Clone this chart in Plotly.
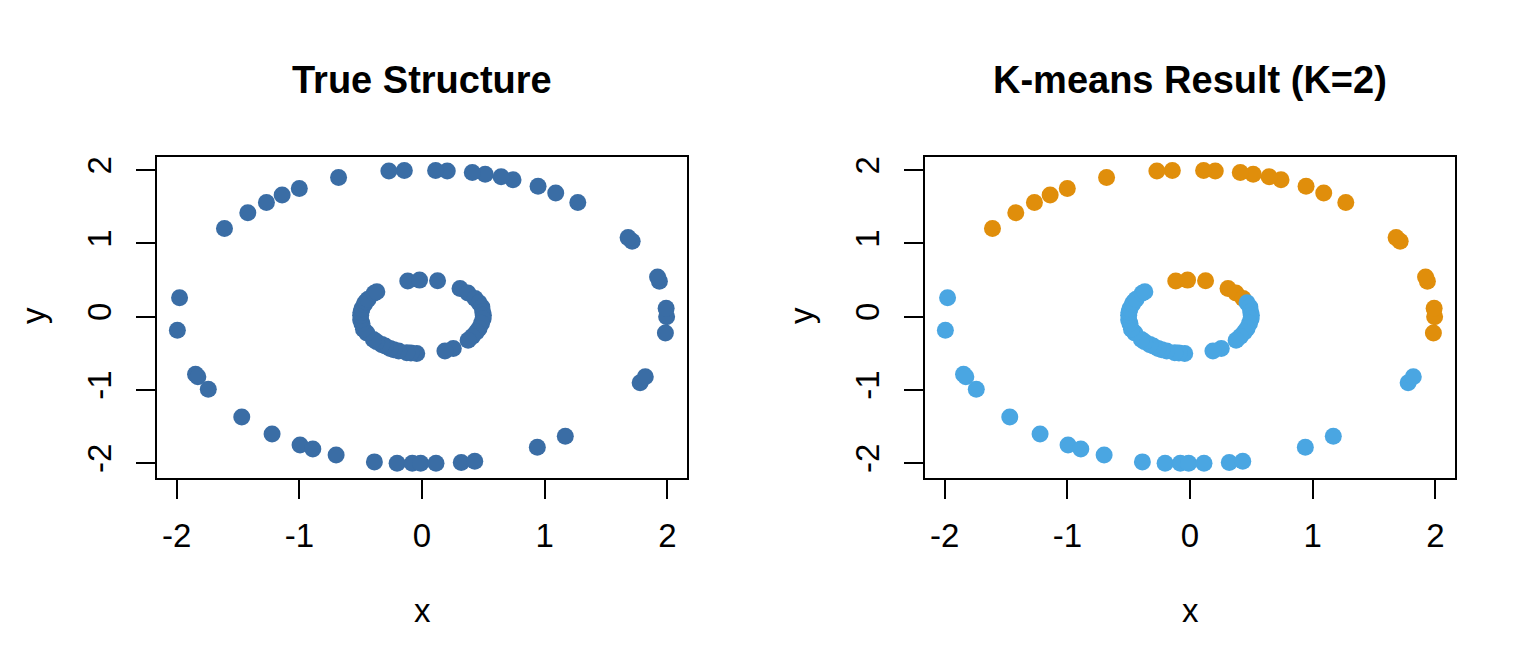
import plotly.graph_objects as go
from plotly.subplots import make_subplots

# outer ring (radius ~2)
outer_x = [-1.976, -1.994, -1.846, -1.827, -1.742, -1.469, -1.222, -0.994, -0.89, -0.70,
           -0.388, -0.203, -0.079, -0.011, 0.114, 0.32, 0.43, 0.94, 1.168, 1.778,
           1.82, 1.984, 1.994, 1.99, 1.935, 1.92, 1.713, 1.68, 1.27, 1.09,
           0.946, 0.742, 0.645, 0.515, 0.41, 0.206, 0.111, -0.144, -0.27, -0.68,
           -1.0, -1.14, -1.268, -1.42, -1.61]
outer_y = [0.26, -0.184, -0.785, -0.82, -0.99, -1.368, -1.60, -1.75, -1.805, -1.887,
           -1.98, -2.0, -2.0, -2.0, -2.0, -1.99, -1.97, -1.78, -1.63, -0.90,
           -0.82, -0.22, 0.0, 0.116, 0.485, 0.543, 1.03, 1.08, 1.56, 1.69,
           1.78, 1.87, 1.91, 1.945, 1.97, 1.99, 1.995, 1.995, 1.99, 1.90,
           1.75, 1.66, 1.559, 1.42, 1.204]
outer_cluster = [2] * 21 + [1] * 24

# inner ring (radius ~0.5)
inner_x = [-0.116, -0.02, 0.127, 0.31, 0.374, 0.433, 0.465, 0.488, 0.495, 0.5,
           0.498, 0.485, 0.465, 0.444, 0.41, 0.376, 0.255, 0.187, -0.043, -0.09,
           -0.124, -0.19, -0.23, -0.26, -0.30, -0.327, -0.37, -0.396, -0.45, -0.477,
           -0.49, -0.50, -0.50, -0.497, -0.49, -0.47, -0.46, -0.44, -0.39, -0.368]
inner_y = [0.489, 0.50, 0.49, 0.385, 0.325, 0.248, 0.19, 0.134, 0.07, 0.02,
           -0.03, -0.09, -0.16, -0.207, -0.27, -0.32, -0.434, -0.467, -0.5, -0.495,
           -0.49, -0.467, -0.45, -0.434, -0.40, -0.38, -0.34, -0.31, -0.22, -0.17,
           -0.09, -0.04, 0.02, 0.06, 0.11, 0.17, 0.20, 0.24, 0.32, 0.34]
inner_cluster = [1] * 6 + [2] * 34

xs = outer_x + inner_x
ys = outer_y + inner_y
clusters = outer_cluster + inner_cluster

tick_vals = [-2, -1, 0, 1, 2]
tick_text = ["-2", "-1", "0", "1", "2"]

true_col = "#3a6da5"
cluster_cols = {1: "#e08e0b", 2: "#4aa6e2"}
FONT = "Liberation Sans, Arial, Helvetica, sans-serif"

fig = make_subplots(rows=1, cols=2)
fig.add_trace(go.Scatter(x=xs, y=ys, mode="markers",
                         marker=dict(color=true_col, size=17, line=dict(width=0))),
              row=1, col=1)
fig.add_trace(go.Scatter(x=xs, y=ys, mode="markers",
                         marker=dict(color=[cluster_cols[c] for c in clusters], size=17,
                                     line=dict(width=0))),
              row=1, col=2)

W, H = 1536, 672
dom_y = [1 - 478 / H, 1 - 157 / H]
fig.update_layout(
    width=W, height=H, showlegend=False,
    margin=dict(l=0, r=0, t=0, b=0),
    paper_bgcolor="white", plot_bgcolor="white",
    font=dict(family=FONT, size=33, color="black"),
    xaxis=dict(domain=[157 / W, 687 / W]),
    xaxis2=dict(domain=[925 / W, 1455 / W]),
    yaxis=dict(domain=dom_y),
    yaxis2=dict(domain=dom_y),
)
fig.update_xaxes(range=[-2.16, 2.16], tickvals=tick_vals, ticktext=tick_text,
                 showgrid=False, zeroline=False, showline=True, mirror=True,
                 linecolor="black", linewidth=2, ticks="outside", ticklen=19,
                 tickwidth=2, tickcolor="black", ticklabelstandoff=8)
fig.update_yaxes(range=[-2.2, 2.18], tickvals=tick_vals, ticktext=tick_text,
                 showgrid=False, zeroline=False, showline=True, mirror=True,
                 linecolor="black", linewidth=2, ticks="outside", ticklen=19,
                 tickwidth=2, tickcolor="black", tickangle=-90, ticklabelstandoff=12)

titles = [("True Structure", 422), ("K-means Result (K=2)", 1190)]
for text, cx in titles:
    fig.add_annotation(text="<b>%s</b>" % text, x=cx / W, y=1 - 80 / H, xref="paper", yref="paper",
                       showarrow=False, font=dict(size=38), xanchor="center", yanchor="middle")
for cx in [422, 1190]:
    fig.add_annotation(text="x", x=cx / W, y=1 - 610 / H, xref="paper", yref="paper",
                       showarrow=False, xanchor="center", yanchor="middle")
for cx in [33, 801]:
    fig.add_annotation(text="y", x=cx / W, y=1 - 316 / H, xref="paper", yref="paper",
                       showarrow=False, textangle=-90, xanchor="center", yanchor="middle")

fig.write_html("out.html", config={"displayModeBar": False},
               post_script="document.body.style.margin='0';")
